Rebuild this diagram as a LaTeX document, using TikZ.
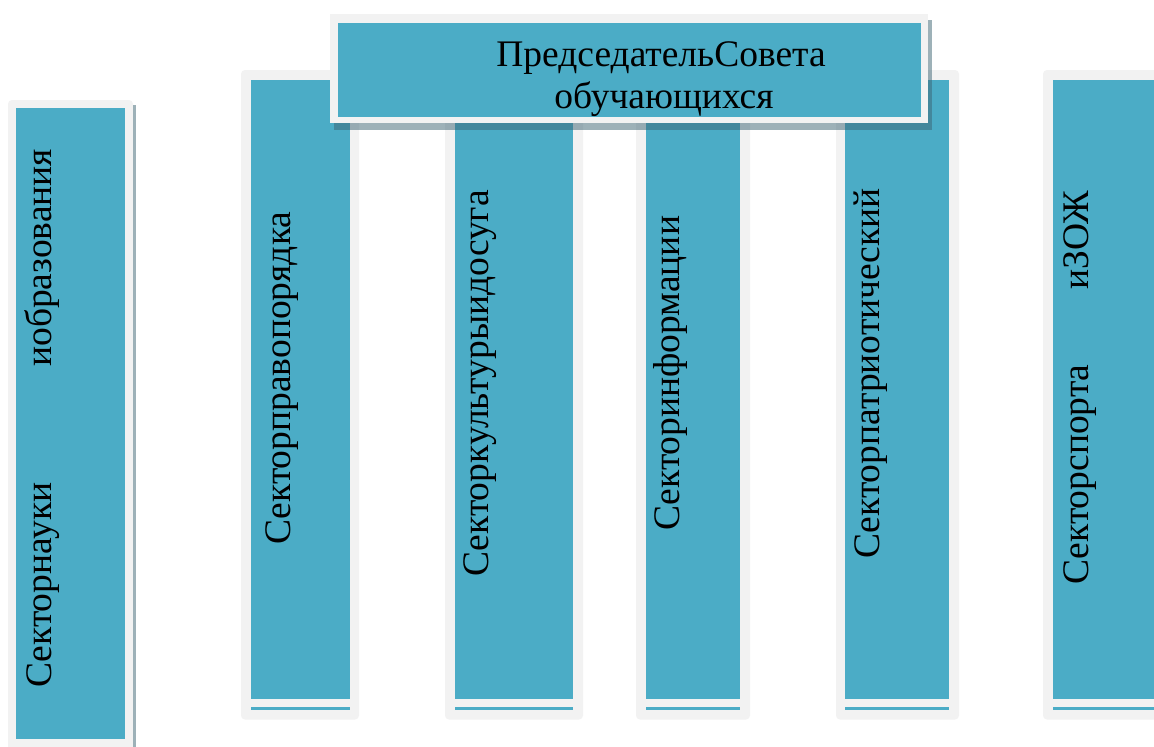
\documentclass[tikz,border=0pt]{standalone}
\usepackage{fontspec}
\setmainfont{Liberation Serif}
\definecolor{acc}{HTML}{4BACC6}
\definecolor{frm}{HTML}{F2F2F2}
\definecolor{shd}{HTML}{3C6473}
\begin{document}
\begin{tikzpicture}[x=1pt,y=-1pt,
  framebox/.style={fill=frm, rounded corners=4pt},
  bluebox/.style={fill=acc},
  shadowbox/.style={fill=shd, opacity=0.5},
  lbl/.style={inner sep=0pt, font=\fontsize{37.5}{44}\selectfont, text=black},
  vlbl/.style={lbl, rotate=90, anchor=base west}]
\useasboundingbox (0,0) rectangle (1154,747);
\fill[white] (0,0) rectangle (1154,747);
% bar 1
\fill[framebox] (8,100) rectangle (133,770);
\fill[bluebox] (16,108) rectangle (125,739);
\fill[shd, opacity=0.5] (133,105) rectangle (135.5,747);
% bars 2-6
\foreach \fa/\fb/\ba/\bb in {241/359/251/350, 445/583/455/573, 636/750/646/740, 836/959/845/949, 1043/1180/1053/1180}{
  \fill[framebox] (\fa,70) rectangle (\fb,719.5);
  \fill[bluebox] (\ba,80) rectangle (\bb,699);
  \fill[bluebox] (\ba,707.3) rectangle (\bb,709.6);
}
% top box
\fill[shadowbox] (334,20) rectangle (932,130);
\fill[frm] (330,14) rectangle (928,123);
\fill[bluebox] (338,23) rectangle (921,117);
\node[lbl, anchor=base] (chairA) at (661,66) {ПредседательСовета};
\node[lbl, anchor=base] (chairB) at (664,108) {обучающихся};
% vertical labels
\node[vlbl] (s1a) at (51,688) {Секторнауки};
\node[vlbl] (s1b) at (51,367) {иобразования};
\node[vlbl] (s2) at (290,545) {Секторправопорядка};
\node[vlbl] (s3) at (488,577) {Секторкультурыидосуга};
\node[vlbl] (s4) at (679,531) {Секторинформации};
\node[vlbl] (s5) at (879,559) {Секторпатриотический};
\node[vlbl] (s6a) at (1088,585) {Секторспорта};
\node[vlbl] (s6b) at (1088,290) {иЗОЖ};
\end{tikzpicture}
\end{document}
